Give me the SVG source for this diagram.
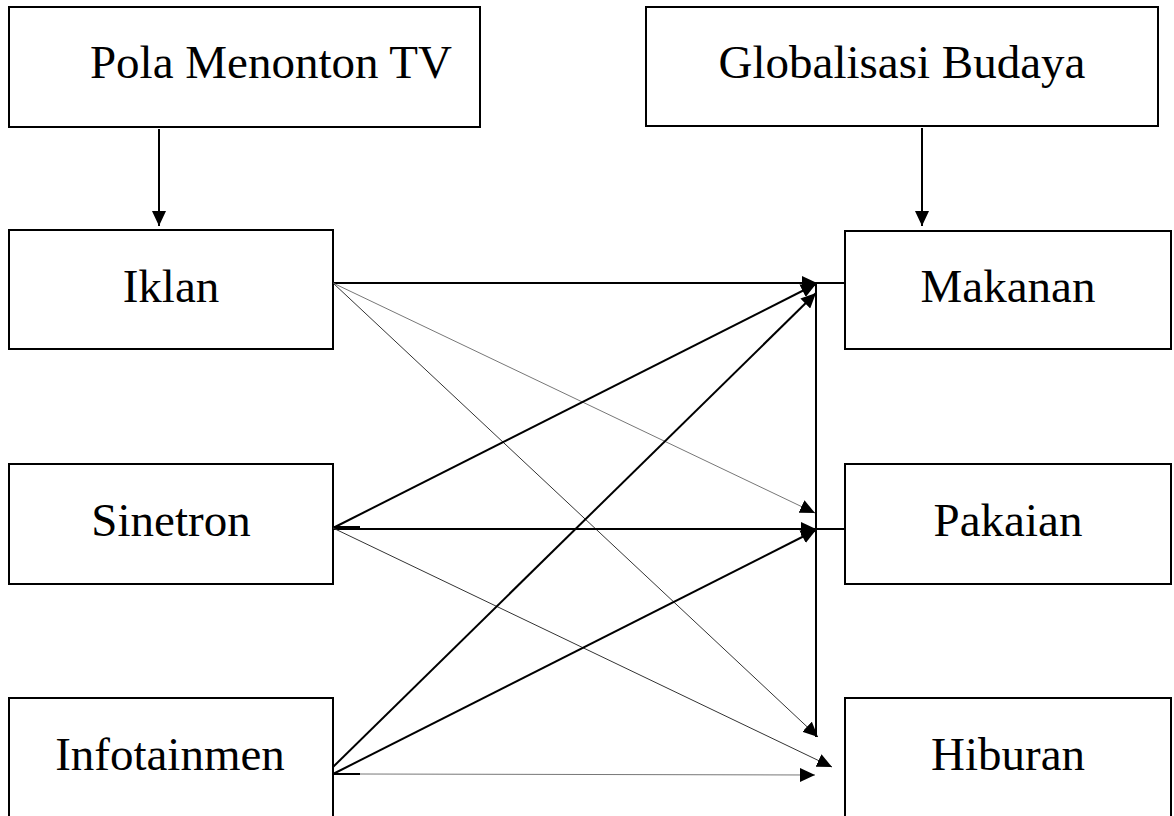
<svg xmlns="http://www.w3.org/2000/svg" width="1174" height="816" viewBox="0 0 1174 816">
  <defs>
    <style>
      .box { fill: #ffffff; stroke: #000000; stroke-width: 2; }
      .label { font-family: "Liberation Serif", "Times New Roman", serif; font-size: 47px; fill: #000000; text-anchor: middle; }
      .thick { stroke: #000000; stroke-width: 2; fill: none; }
      .thin { stroke: #333333; stroke-width: 1; fill: none; }
      .faint { stroke: #777777; stroke-width: 1; fill: none; }
    </style>
    <marker id="arrow" markerUnits="userSpaceOnUse" markerWidth="16" markerHeight="14" refX="15" refY="7" orient="auto">
      <path d="M0,0 L15,7 L0,14 z" fill="#000000"/>
    </marker>
  </defs>

  <!-- Source boxes -->
  <g id="pola-menonton-tv">
    <rect class="box" x="9" y="7" width="471" height="120"/>
    <text class="label" x="271" y="78">Pola Menonton TV</text>
  </g>
  <g id="globalisasi-budaya">
    <rect class="box" x="646" y="7" width="512" height="119"/>
    <text class="label" x="902" y="78">Globalisasi Budaya</text>
  </g>

  <!-- Left column -->
  <g id="iklan">
    <rect class="box" x="9" y="230" width="324" height="119"/>
    <text class="label" x="171" y="302">Iklan</text>
  </g>
  <g id="sinetron">
    <rect class="box" x="9" y="464" width="324" height="120"/>
    <text class="label" x="171" y="536">Sinetron</text>
  </g>
  <g id="infotainmen">
    <rect class="box" x="9" y="698" width="324" height="130"/>
    <text class="label" x="170" y="770">Infotainmen</text>
  </g>

  <!-- Right column -->
  <g id="makanan">
    <rect class="box" x="845" y="231" width="326" height="118"/>
    <text class="label" x="1008" y="302">Makanan</text>
  </g>
  <g id="pakaian">
    <rect class="box" x="845" y="464" width="326" height="120"/>
    <text class="label" x="1008" y="536">Pakaian</text>
  </g>
  <g id="hiburan">
    <rect class="box" x="845" y="698" width="326" height="130"/>
    <text class="label" x="1008" y="770">Hiburan</text>
  </g>

  <!-- Connectors -->
  <g id="connectors">
    <!-- top-level arrows -->
    <line class="thick" x1="159" y1="129" x2="159" y2="226" marker-end="url(#arrow)"/>
    <line class="thick" x1="922" y1="128" x2="922" y2="226" marker-end="url(#arrow)"/>

    <!-- collector line and short links into the right boxes -->
    <line class="thick" x1="816" y1="282" x2="816" y2="737"/>
    <line class="thick" x1="816" y1="283" x2="845" y2="283"/>
    <line class="thick" x1="816" y1="529" x2="845" y2="529"/>

    <!-- from Iklan -->
    <line class="thick" x1="333" y1="283" x2="817" y2="283" marker-end="url(#arrow)"/>
    <line class="faint" x1="333" y1="283" x2="815" y2="513" marker-end="url(#arrow)"/>
    <line class="thin" x1="333" y1="283" x2="818" y2="737" marker-end="url(#arrow)"/>

    <!-- from Sinetron -->
    <line class="thick" x1="333" y1="528" x2="816" y2="284" marker-end="url(#arrow)"/>
    <line class="thick" x1="333" y1="527" x2="360" y2="527"/>
    <line class="thick" x1="333" y1="529" x2="816" y2="529" marker-end="url(#arrow)"/>
    <line class="thin" x1="333" y1="528" x2="832" y2="767" marker-end="url(#arrow)"/>

    <!-- from Infotainmen -->
    <line class="thick" x1="333" y1="767" x2="816" y2="293" marker-end="url(#arrow)"/>
    <line class="thick" x1="333" y1="774" x2="816" y2="530" marker-end="url(#arrow)"/>
    <line class="thick" x1="333" y1="774" x2="360" y2="774"/>
    <line class="faint" x1="360" y1="774" x2="815" y2="775" marker-end="url(#arrow)"/>
  </g>
</svg>
